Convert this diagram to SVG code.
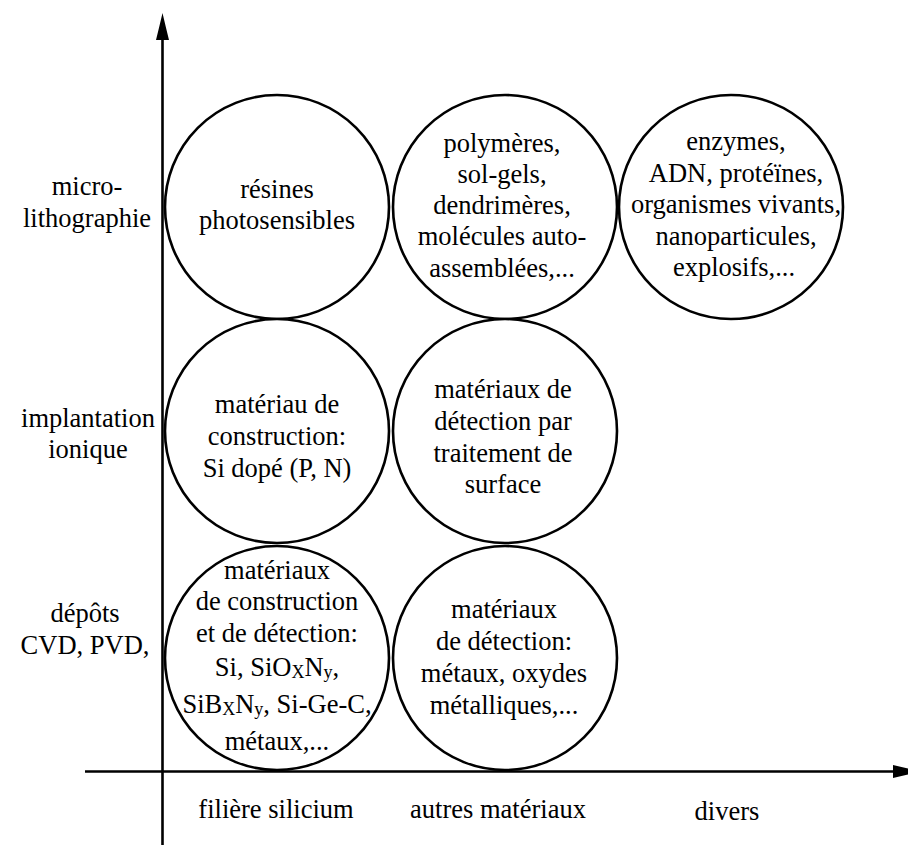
<svg xmlns="http://www.w3.org/2000/svg" width="908" height="845" viewBox="0 0 908 845">
<style>
text{font-size:26.5px;fill:#000;text-anchor:middle}
.c{fill:#fff;stroke:#000;stroke-width:2.6}
.ax{stroke:#000;stroke-width:2.6;fill:none}
.sub{font-size:18px}
</style>
<rect width="908" height="845" fill="#fff"/>
<g id="connectors">
<line class="ax" x1="162.5" y1="36" x2="162.5" y2="845"/>
<path d="M162.5,13 Q159,28 156,40 L169,40 Q166,28 162.5,13 Z" fill="#000"/>
<line class="ax" x1="85" y1="771.5" x2="896" y2="771.5"/>
<path d="M920,771.5 Q906,768 893,765 L893,778 Q906,775 920,771.5 Z" fill="#000"/>
</g>
<g font-family="Liberation Serif, Tinos, Times New Roman, DejaVu Serif, serif">
<g id="labels-y">
<text x="87" y="195">micro-</text>
<text x="87" y="227">lithographie</text>
<text x="88" y="427">implantation</text>
<text x="88" y="458">ionique</text>
<text x="85" y="622">dépôts</text>
<text x="85" y="654">CVD, PVD,</text>
</g>
<g id="labels-x">
<text x="276" y="818">filière silicium</text>
<text x="498" y="818">autres matériaux</text>
<text x="727" y="820">divers</text>
</g>
<g id="n1">
<circle class="c" cx="277" cy="207" r="112"/>
<text x="277" y="198">résines</text>
<text x="277" y="229">photosensibles</text>
</g>
<g id="n2">
<circle class="c" cx="505" cy="207" r="112"/>
<text x="502" y="152">polymères,</text>
<text x="502" y="183">sol-gels,</text>
<text x="502" y="214">dendrimères,</text>
<text x="502" y="245">molécules auto-</text>
<text x="502" y="277">assemblées,...</text>
</g>
<g id="n3">
<circle class="c" cx="731" cy="207" r="112"/>
<text x="736" y="150">enzymes,</text>
<text x="736" y="182">ADN, protéïnes,</text>
<text x="736" y="213">organismes vivants,</text>
<text x="736" y="245">nanoparticules,</text>
<text x="734" y="276">explosifs,...</text>
</g>
<g id="n4">
<circle class="c" cx="277" cy="431" r="112"/>
<text x="277" y="413">matériau de</text>
<text x="277" y="445">construction:</text>
<text x="277" y="477">Si dopé (P, N)</text>
</g>
<g id="n5">
<circle class="c" cx="505" cy="431" r="112"/>
<text x="503" y="398">matériaux de</text>
<text x="503" y="430">détection par</text>
<text x="503" y="462">traitement de</text>
<text x="503" y="493">surface</text>
</g>
<g id="n6">
<circle class="c" cx="277" cy="658" r="112"/>
<text x="277" y="579">matériaux</text>
<text x="277" y="610">de construction</text>
<text x="277" y="642">et de détection:</text>
<text x="277" y="676">Si, SiO<tspan class="sub" dy="2">X</tspan><tspan dy="-2">N</tspan><tspan class="sub" dy="2">y</tspan><tspan dy="-2">,</tspan></text>
<text x="277" y="713">SiB<tspan class="sub" dy="2">X</tspan><tspan dy="-2">N</tspan><tspan class="sub" dy="2">y</tspan><tspan dy="-2">, Si-Ge-C,</tspan></text>
<text x="277" y="750">métaux,...</text>
</g>
<g id="n7">
<circle class="c" cx="505" cy="658" r="112"/>
<text x="504" y="618">matériaux</text>
<text x="504" y="650">de détection:</text>
<text x="504" y="682">métaux, oxydes</text>
<text x="504" y="714">métalliques,...</text>
</g>
</g>
</svg>
